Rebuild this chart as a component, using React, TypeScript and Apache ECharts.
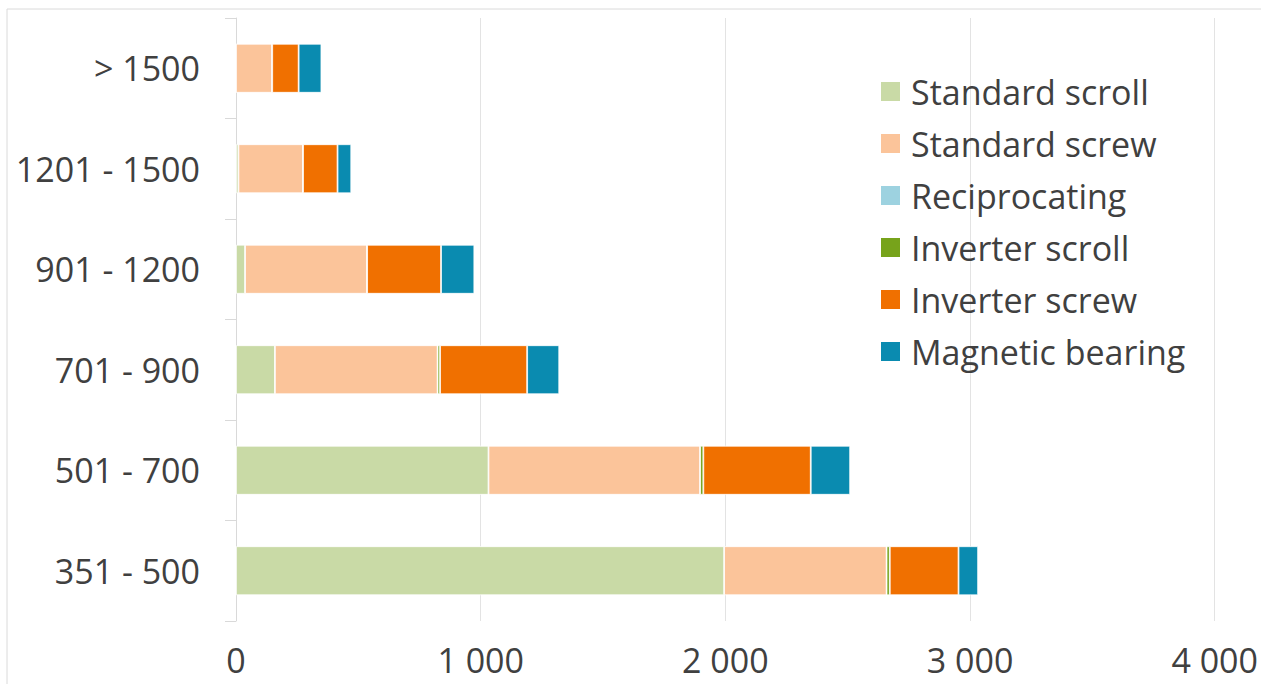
import React, { useEffect, useRef } from "react";
import * as echarts from "echarts";

const categories = ["351 - 500", "501 - 700", "701 - 900", "901 - 1200", "1201 - 1500", "> 1500"];
const seriesNames = [
  "Standard scroll",
  "Standard screw",
  "Reciprocating",
  "Inverter scroll",
  "Inverter screw",
  "Magnetic bearing",
];
const standardScroll = [1995, 1032, 159, 37, 10, 0];
const standardScrew = [664, 865, 665, 499, 264, 148];
const reciprocating = [0, 0, 0, 0, 0, 0];
const inverterScroll = [13, 13, 10, 0, 0, 0];
const inverterScrew = [281, 439, 356, 302, 141, 108];
const magneticBearing = [80, 161, 131, 136, 56, 93];
const colors = ["#C9DAA6", "#FBC49A", "#9DD2E0", "#77A31B", "#F07000", "#0A8BB0"];
const xTicks = [0, 1000, 2000, 3000, 4000];

const allValues = [standardScroll, standardScrew, reciprocating, inverterScroll, inverterScrew, magneticBearing];

export default function App() {
  const ref = useRef<HTMLDivElement>(null);
  useEffect(() => {
    if (!ref.current) return;
    const chart = echarts.init(ref.current, undefined, { renderer: "svg" });
    const font = "'Open Sans', Lato, sans-serif";
    chart.setOption({
      animation: false,
      backgroundColor: "#ffffff",
      textStyle: { fontFamily: font },
      grid: { left: 236, right: 43, top: 18, bottom: 63, containLabel: false },
      legend: {
        orient: "vertical",
        left: 879,
        top: 74,
        padding: 0,
        itemWidth: 21,
        itemHeight: 21,
        itemGap: 17,
        icon: "rect",
        data: seriesNames,
        textStyle: {
          fontFamily: font,
          fontSize: 34,
          color: "#404040",
          lineHeight: 35,
          padding: [0, 0, 0, 5],
        },
      },
      xAxis: {
        type: "value",
        min: xTicks[0],
        max: xTicks[xTicks.length - 1],
        interval: 1000,
        axisLine: { show: false },
        axisTick: { show: false },
        splitLine: { show: true, lineStyle: { color: "#E3E3E3", width: 1 } },
        axisLabel: {
          fontFamily: font,
          fontSize: 34,
          color: "#404040",
          margin: 22,
          formatter: (v: number) => (v === 0 ? "0" : v.toLocaleString("en-US").replace(",", " ")),
        },
      },
      yAxis: {
        type: "category",
        data: categories,
        axisLine: { show: true, lineStyle: { color: "#D9D9D9", width: 1 } },
        axisTick: { show: true, length: 11, lineStyle: { color: "#D9D9D9" } },
        splitLine: { show: false },
        axisLabel: {
          fontFamily: font,
          fontSize: 34,
          color: "#404040",
          margin: 36,
        },
      },
      graphic: [
        {
          type: "polyline",
          shape: { points: [[7, 700], [7, 9], [1270, 9]] },
          style: { stroke: "#DADADA", lineWidth: 1, fill: "none" },
          silent: true,
        },
      ],
      series: seriesNames.map((name, i) => ({
        name,
        type: "bar",
        stack: "total",
        barWidth: 49,
        data: allValues[i],
        itemStyle: { color: colors[i], borderColor: "#ffffff", borderWidth: 0.8 },
      })),
    });
    return () => chart.dispose();
  }, []);
  return (
    <div
      ref={ref}
      style={{ position: "absolute", left: 0, top: 0, width: 1261, height: 684 }}
    />
  );
}
